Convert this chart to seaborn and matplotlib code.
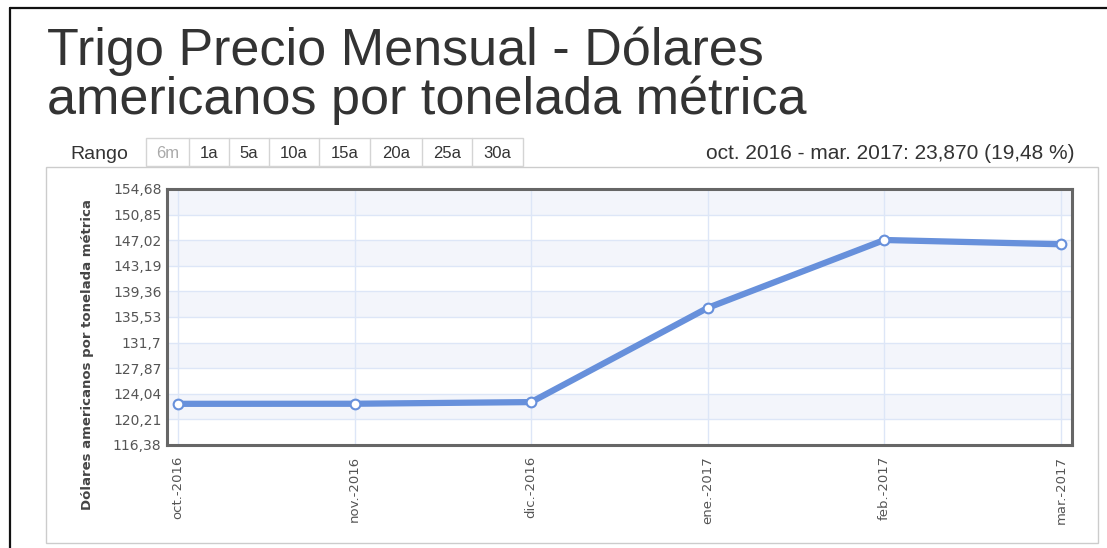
import numpy as np
import pandas as pd
import matplotlib
matplotlib.use('Agg')
import matplotlib.pyplot as plt
from matplotlib.patches import Rectangle
from matplotlib.lines import Line2D
import seaborn as sns

months = ['oct.-2016', 'nov.-2016', 'dic.-2016', 'ene.-2017', 'feb.-2017', 'mar.-2017']
prices = [122.54, 122.55, 122.80, 136.90, 147.05, 146.41]
y_ticks = [116.38, 120.21, 124.04, 127.87, 131.70, 135.53, 139.36, 143.19, 147.02, 150.85, 154.68]
y_tick_labels = ['116,38', '120,21', '124,04', '127,87', '131,7', '135,53',
                 '139,36', '143,19', '147,02', '150,85', '154,68']
range_buttons = ['6m', '1a', '5a', '10a', '15a', '20a', '25a', '30a']
title_lines = ['Trigo Precio Mensual - Dólares', 'americanos por tonelada métrica']
y_label = 'Dólares americanos por tonelada métrica'
summary = 'oct. 2016 - mar. 2017: 23,870 (19,48 %)'

df = pd.DataFrame({'mes': np.arange(len(months)), 'precio': prices})

sns.set_theme(style='white')
plt.rcParams['font.family'] = ['DejaVu Sans']

W, H = 1107, 548
fig = plt.figure(figsize=(W / 100, H / 100), dpi=100)
fig.patch.set_facecolor('white')


def fx(px):
    return px / W


def fy(py):
    return 1 - py / H


line_col = '#6790db'

# outer frame (top + left) and grey panel
fig.add_artist(Line2D([fx(10), 1], [fy(8), fy(8)], color='#111111', lw=1.6))
fig.add_artist(Line2D([fx(10), fx(10)], [fy(8), 0], color='#111111', lw=1.6))
fig.add_artist(Rectangle((fx(46), fy(543)), fx(1098) - fx(46), fy(167) - fy(543),
                         fill=False, ec='#cccccc', lw=1))

# title
fig.text(fx(47), fy(65), title_lines[0], family='Liberation Sans', fontsize=37.5,
         color='#333333', va='baseline', ha='left')
fig.text(fx(47), fy(114), title_lines[1], family='Liberation Sans', fontsize=37.5,
         color='#333333', va='baseline', ha='left')

# range selector
fig.text(fx(70), fy(159), 'Rango', family='Liberation Sans', fontsize=14,
         color='#333333', va='baseline', ha='left')
edges = [146, 189, 229, 269, 319, 370, 422, 472, 523]
fig.add_artist(Rectangle((fx(edges[0]), fy(166)), fx(edges[-1]) - fx(edges[0]),
                         fy(138) - fy(166), fill=False, ec='#d4d4d4', lw=1))
for i, lab in enumerate(range_buttons):
    if i > 0:
        fig.add_artist(Line2D([fx(edges[i])] * 2, [fy(138), fy(166)], color='#d4d4d4', lw=1))
    fig.text((fx(edges[i]) + fx(edges[i + 1])) / 2, fy(158), lab, family='Liberation Sans',
             fontsize=12, color='#aaaaaa' if i == 0 else '#333333', va='baseline', ha='center')

fig.text(fx(1075), fy(159), summary, family='Liberation Sans', fontsize=15,
         color='#333333', va='baseline', ha='right')

# plot area
ax = fig.add_axes([fx(167), fy(445), fx(1072) - fx(167), fy(189) - fy(445)])
for k in range(1, len(y_ticks) - 1, 2):
    ax.axhspan(y_ticks[k], y_ticks[k + 1], color='#f3f5fb', zorder=0, lw=0)

sns.lineplot(data=df, x='mes', y='precio', ax=ax, color=line_col, lw=4.5,
             marker='o', markersize=7, markerfacecolor='white',
             markeredgecolor=line_col, markeredgewidth=1.5, zorder=3)
ln = ax.lines[-1]
ln.set_markerfacecolor('white')
ln.set_markeredgecolor(line_col)

ax.set_xlim(-0.063, len(months) - 1 + 0.063)
ax.set_ylim(y_ticks[0], y_ticks[-1])
ax.set_yticks(y_ticks)
ax.set_yticklabels(y_tick_labels)
ax.set_xticks(range(len(months)))
ax.set_xticklabels(months, rotation=90, va='top', ha='center')
ax.tick_params(axis='y', labelsize=10, labelcolor='#555555', pad=4, length=0)
ax.tick_params(axis='x', labelsize=9.5, labelcolor='#555555', pad=8, length=0)
ax.grid(True, color='#dde6f7', lw=1)
ax.set_axisbelow(True)
for s in ax.spines.values():
    s.set_color('#666666')
    s.set_linewidth(2.2)
ax.set_xlabel('')
ax.set_ylabel('')

fig.text(fx(88), fy(355), y_label, rotation=90, fontsize=9.5, fontweight='bold',
         color='#444444', ha='center', va='center')

fig.savefig('out.png', dpi=100)
